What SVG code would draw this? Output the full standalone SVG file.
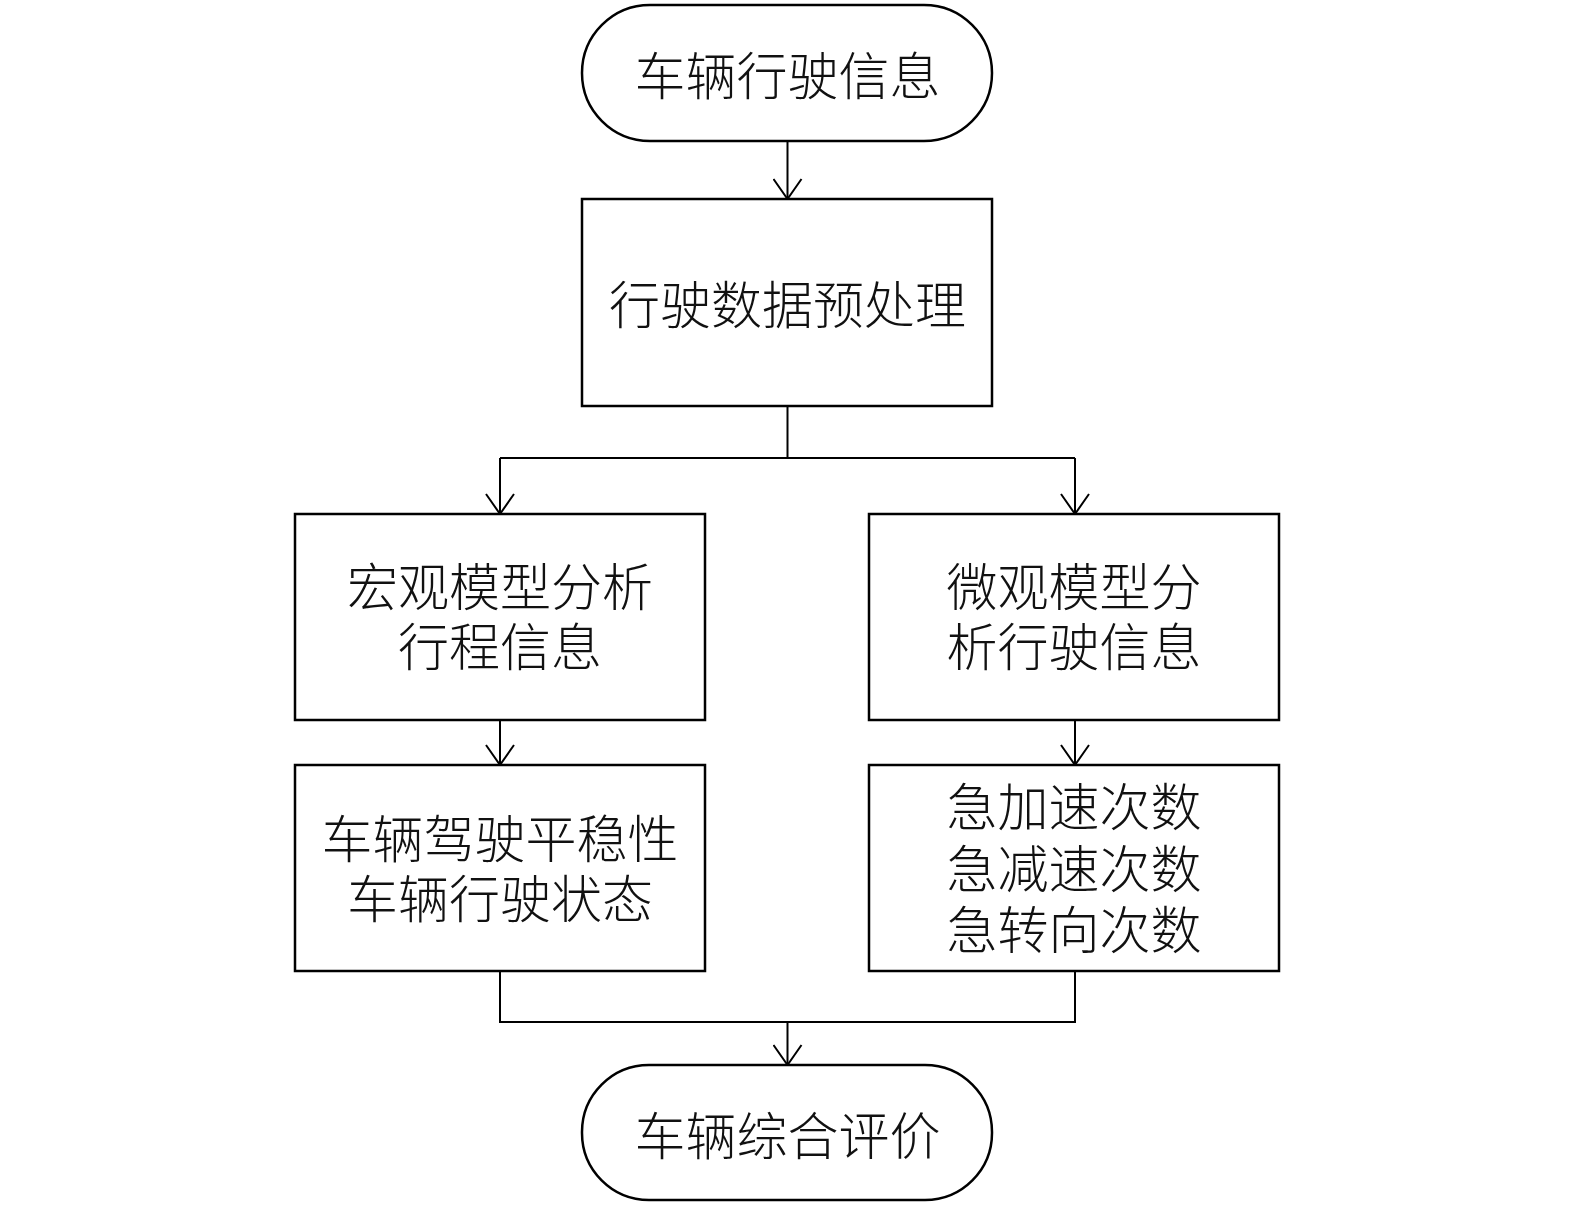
<svg xmlns="http://www.w3.org/2000/svg" width="1575" height="1205" viewBox="0 0 1575 1205">
<style>
.shape{fill:#fff;stroke:#000;stroke-width:2.5}
.ln{fill:none;stroke:#000;stroke-width:2}
.t{font-family:"Noto Sans CJK SC","Noto Sans",sans-serif;font-size:51px;font-weight:300;fill:#111;text-anchor:middle;dominant-baseline:central}
</style>
<defs>
<marker id="ah" markerWidth="24" markerHeight="30" refX="21" refY="15" orient="auto" markerUnits="userSpaceOnUse" viewBox="0 0 24 30">
<path d="M1,1 L21,15 L1,29" fill="none" stroke="#000" stroke-width="2"/>
</marker>
</defs>
<rect width="1575" height="1205" fill="#fff"/>
<g id="connectors">
<path class="ln" d="M787.5,141 V199" marker-end="url(#ah)"/>
<path class="ln" d="M787.5,406 V458"/>
<path class="ln" d="M500,458 H1075"/>
<path class="ln" d="M500,458 V514" marker-end="url(#ah)"/>
<path class="ln" d="M1075,458 V514" marker-end="url(#ah)"/>
<path class="ln" d="M500,720 V765" marker-end="url(#ah)"/>
<path class="ln" d="M1075,720 V765" marker-end="url(#ah)"/>
<path class="ln" d="M500,971 V1022 H1075 V971"/>
<path class="ln" d="M787.5,1022 V1065" marker-end="url(#ah)"/>
</g>
<g id="start">
<rect class="shape" x="582" y="5" width="410" height="136" rx="68" ry="68"/>
<text class="t" x="787.5" y="73">车辆行驶信息</text>
</g>
<g id="preprocess">
<rect class="shape" x="582" y="199" width="410" height="207"/>
<text class="t" x="787.5" y="302">行驶数据预处理</text>
</g>
<g id="macro">
<rect class="shape" x="295" y="514" width="410" height="206"/>
<text class="t" x="500" y="584"><tspan x="500" y="584">宏观模型分析</tspan><tspan x="500" y="644">行程信息</tspan></text>
</g>
<g id="micro">
<rect class="shape" x="869" y="514" width="410" height="206"/>
<text class="t" x="1074" y="584"><tspan x="1074" y="584">微观模型分</tspan><tspan x="1074" y="644">析行驶信息</tspan></text>
</g>
<g id="stability">
<rect class="shape" x="295" y="765" width="410" height="206"/>
<text class="t" x="500" y="836"><tspan x="500" y="836">车辆驾驶平稳性</tspan><tspan x="500" y="896">车辆行驶状态</tspan></text>
</g>
<g id="counts">
<rect class="shape" x="869" y="765" width="410" height="206"/>
<text class="t" x="1074" y="804"><tspan x="1074" y="804">急加速次数</tspan><tspan x="1074" y="866">急减速次数</tspan><tspan x="1074" y="927">急转向次数</tspan></text>
</g>
<g id="end">
<rect class="shape" x="582" y="1065" width="410" height="135" rx="67" ry="67"/>
<text class="t" x="787.5" y="1133">车辆综合评价</text>
</g>
</svg>
